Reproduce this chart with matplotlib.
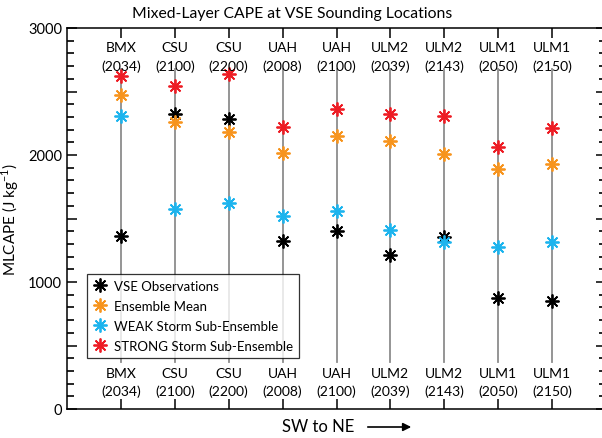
import matplotlib
matplotlib.use("Agg")
import matplotlib.pyplot as plt
from matplotlib.ticker import FuncFormatter
from matplotlib.patches import FancyArrowPatch

plt.rcParams['font.family'] = ['Lato', 'DejaVu Sans']

sites = ["BMX", "CSU", "CSU", "UAH", "UAH", "ULM2", "ULM2", "ULM1", "ULM1"]
times = ["2034", "2100", "2200", "2008", "2100", "2039", "2143", "2050", "2150"]
obs = [1365, 2325, 2283, 1325, 1404, 1215, 1352, 874, 853]
ens_mean = [2472, 2257, 2184, 2013, 2152, 2113, 2008, 1890, 1927]
weak = [2305, 1575, 1620, 1517, 1556, 1409, 1318, 1273, 1318]
strong = [2624, 2541, 2638, 2218, 2362, 2323, 2305, 2060, 2210]

series = [
    ("VSE Observations", obs, "black"),
    ("Ensemble Mean", ens_mean, "#F7941D"),
    ("WEAK Storm Sub-Ensemble", weak, "#1CB4EE"),
    ("STRONG Storm Sub-Ensemble", strong, "#EE1C24"),
]

fig = plt.figure(figsize=(6.02, 4.39), dpi=100)
W, H = 602, 439
x0, x1, ytop, ybot = 67, 606, 29, 410
ax = fig.add_axes([x0 / W, (H - ybot) / H, (x1 - x0) / W, (ybot - ytop) / H])

xs = list(range(1, len(sites) + 1))
ax.set_xlim(0, 10)
ax.set_ylim(0, 3000)

for x in xs:
    ax.plot([x, x], [370, 2680], color="#8c8c8c", lw=1.3, zorder=1)

for label, vals, col in series:
    ax.plot(xs, vals, linestyle="none", marker=(8, 2, 0), markersize=10,
            mew=1.3, color=col, label=label, zorder=3)

for x, s, t in zip(xs, sites, times):
    ax.text(x, 2850, s, ha="center", va="center", fontsize=10)
    ax.text(x, 2705, "(" + t + ")", ha="center", va="center", fontsize=10)
    ax.text(x, 285, s, ha="center", va="center", fontsize=10)
    ax.text(x, 142, "(" + t + ")", ha="center", va="center", fontsize=10)

ax.set_yticks([0, 500, 1000, 1500, 2000, 2500, 3000])
ax.set_yticks([v for v in range(100, 3000, 100) if v % 500 != 0], minor=True)
ax.yaxis.set_major_formatter(FuncFormatter(lambda v, p: f"{int(v)}" if v % 1000 == 0 else ""))
ax.set_xticks(xs)
ax.set_xticklabels([])
ax.tick_params(axis="both", which="major", direction="in", length=7, width=1.1,
               top=True, right=True, labelsize=10.5)
ax.tick_params(axis="y", which="minor", direction="in", length=5, width=1.2,
               left=True, right=True, color="black")
for sp in ax.spines.values():
    sp.set_linewidth(1.1)

ax.set_ylabel("MLCAPE (J kg$^{\\mathregular{-1}}$)", fontsize=11, labelpad=5)

leg = ax.legend(loc="upper left", bbox_to_anchor=((87 - x0) / (x1 - x0), (ybot - 275) / (ybot - ytop)),
                fontsize=9.5, frameon=True, fancybox=False, edgecolor="black",
                handlelength=1.0, handletextpad=0.6, borderpad=0.45, labelspacing=0.6,
                borderaxespad=0)
leg.get_frame().set_linewidth(0.9)

fig.text(292 / W, 1 - 14 / H, "Mixed-Layer CAPE at VSE Sounding Locations",
         ha="center", va="center", fontsize=11.3)
fig.text(318 / W, 1 - 427 / H, "SW to NE", ha="center", va="center", fontsize=12)
arrow = FancyArrowPatch((365 / W, 1 - 428 / H), (414 / W, 1 - 428 / H),
                        transform=fig.transFigure, arrowstyle="-|>", color="black",
                        lw=1.2, mutation_scale=12)
fig.patches.append(arrow)

fig.savefig("out.png", dpi=100)
